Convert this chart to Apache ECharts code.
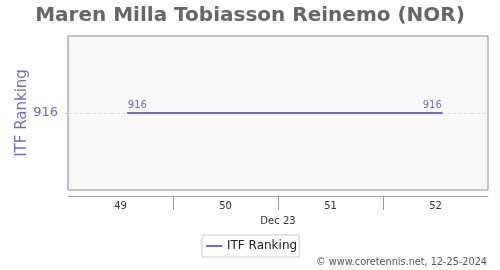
<!DOCTYPE html>
<html><head><meta charset="utf-8">
<script src="https://cdn.jsdelivr.net/npm/echarts@6/dist/echarts.min.js"></script>
<style>html,body{margin:0;padding:0;background:#fff}#c{width:500px;height:270px}</style>
</head><body><div id="c"></div>
<script>
const titleText = 'Maren Milla Tobiasson Reinemo (NOR)';
const weekLabels = ['49', '50', '51', '52'];
const monthLabel = 'Dec 23';
const pointPositions = [0.57, 3.56];
const rankings = [916, 916];
const seriesName = 'ITF Ranking';
const yTicks = [916];
const credit = '\u00a9 www.coretennis.net, 12-25-2024';

const lineColor = '#6b6bcc';
const chart = echarts.init(document.getElementById('c'), null, {renderer: 'canvas'});
const font = 'DejaVu Sans';
const last = rankings.length - 1;
chart.setOption({
  animation: false,
  textStyle: {fontFamily: font},
  title: [
    {text: titleText, left: 'center', top: 1,
     textStyle: {fontFamily: font, fontSize: 20, fontWeight: 'bold', color: '#666'}},
    {text: credit, right: 8, bottom: -2,
     textStyle: {fontFamily: font, fontSize: 9.7, fontWeight: 'normal', color: '#555'}}
  ],
  legend: {
    data: [seriesName], left: 202, top: 235,
    borderColor: '#ccc', borderWidth: 1, padding: [5, 2, 5, 4], borderRadius: 0,
    itemWidth: 16, itemHeight: 10, itemGap: 4,
    icon: 'path://M0,4 L16,4 L16,6 L0,6 Z',
    itemStyle: {color: lineColor, opacity: 1},
    textStyle: {fontFamily: font, fontSize: 12, color: '#222'}
  },
  grid: {left: 68, right: 12, top: 36, height: 154, show: true,
         backgroundColor: '#f8f8f8', borderColor: '#888', borderWidth: 1},
  xAxis: {
    type: 'value', min: 0, max: 4, offset: 6,
    name: monthLabel, nameLocation: 'middle', nameGap: 20, nameMoveOverlap: false,
    nameTextStyle: {fontFamily: font, fontSize: 10, color: '#333'},
    axisLine: {show: true, lineStyle: {color: '#aaa', width: 1}},
    axisTick: {show: true, customValues: [1, 2, 3], length: 14, lineStyle: {color: '#999'}},
    axisLabel: {customValues: weekLabels.map((_, i) => i + 0.5),
                formatter: v => weekLabels[Math.floor(v)], margin: 5,
                fontFamily: font, fontSize: 10, color: '#333'},
    splitLine: {show: false}
  },
  yAxis: {
    type: 'value', inverse: true, min: yTicks[0] - 10, max: yTicks[0] + 10,
    offset: 5,
    name: seriesName, nameLocation: 'middle', nameGap: 33, nameMoveOverlap: false,
    nameTextStyle: {fontFamily: font, fontSize: 15, color: '#6b6bcc'},
    axisLine: {show: true, lineStyle: {color: '#b4b4e4', width: 1}},
    axisTick: {show: true, customValues: yTicks, length: 3, lineStyle: {color: '#b4b4e4'}},
    axisLabel: {customValues: yTicks, margin: 5,
                fontFamily: font, fontSize: 13, color: '#6b6bcc'},
    splitLine: {show: false}
  },
  series: [{
    name: seriesName, type: 'line', symbol: 'circle', symbolSize: 2, showSymbol: true,
    data: pointPositions.map((x, i) => ({
      value: [x, rankings[i]],
      label: {align: i === 0 ? 'left' : (i === last ? 'right' : 'center')}
    })),
    lineStyle: {color: lineColor, width: 2},
    itemStyle: {color: lineColor},
    label: {show: true, position: 'top', distance: 2, fontFamily: font, fontSize: 10, color: lineColor,
            formatter: p => String(p.value[1])},
    markLine: {
      silent: true, symbol: 'none', label: {show: false}, z: 1,
      lineStyle: {color: '#ddd', type: 'dashed', width: 1},
      data: yTicks.map(v => ({yAxis: v}))
    }
  }]
});
</script></body></html>
